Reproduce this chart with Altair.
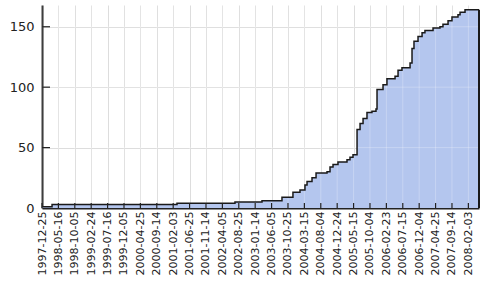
import altair as alt
import pandas as pd

dates = ["1997-12-25", "1998-03-22", "2001-03-08", "2002-07-23", "2003-03-14",
         "2003-09-03", "2003-12-07", "2004-02-06", "2004-03-20", "2004-04-07",
         "2004-05-20", "2004-06-24", "2004-09-27", "2004-10-23", "2004-11-18",
         "2004-12-31", "2005-03-19", "2005-04-14", "2005-05-10", "2005-06-14",
         "2005-07-10", "2005-08-05", "2005-09-08", "2005-10-21", "2005-11-25",
         "2005-12-04", "2006-01-25", "2006-02-28", "2006-05-09", "2006-06-04",
         "2006-07-08", "2006-09-16", "2006-10-03", "2006-10-20", "2006-11-24",
         "2006-12-29", "2007-01-23", "2007-04-03", "2007-06-02", "2007-06-28",
         "2007-08-11", "2007-09-14", "2007-11-05", "2007-11-23", "2008-01-05",
         "2008-05-05"]
values = [1, 3, 4, 5, 6,
          9, 13, 15, 19, 22,
          25, 29, 30, 34, 36,
          38, 40, 42, 44, 65,
          70, 74, 79, 80, 82,
          98, 102, 107, 109, 114,
          116, 120, 132, 138, 142,
          145, 147, 149, 150, 152,
          155, 158, 160, 162, 164,
          164]

tick_labels = ["1997-12-25", "1998-05-16", "1998-10-05", "1999-02-24", "1999-07-16",
               "1999-12-05", "2000-04-25", "2000-09-14", "2001-02-03", "2001-06-25",
               "2001-11-14", "2002-04-05", "2002-08-25", "2003-01-14", "2003-06-05",
               "2003-10-25", "2004-03-15", "2004-08-04", "2004-12-24", "2005-05-15",
               "2005-10-04", "2006-02-23", "2006-07-15", "2006-12-04", "2007-04-25",
               "2007-09-14", "2008-02-03"]
y_ticks = [0, 50, 100, 150]

x_start = "1997-12-25"
x_end = "2008-05-05"
y_max = 168

W, H = 437, 203

df = pd.DataFrame({"date": dates, "value": values})
tick_ms = [int(pd.Timestamp(t, tz="UTC").timestamp() * 1000) for t in tick_labels]
ticks_df = pd.DataFrame({"date": tick_labels})
yt_df = pd.DataFrame({"v": y_ticks[1:]})
end_df = df.tail(1)

dom = [int(pd.Timestamp(x_start, tz="UTC").timestamp() * 1000),
       int(pd.Timestamp(x_end, tz="UTC").timestamp() * 1000)]

xscale = alt.Scale(type="utc", domain=dom, nice=False)
yscale = alt.Scale(domain=[0, y_max], nice=False)

x_axis = alt.Axis(
    values=tick_ms,
    tickCount=100,
    labelExpr="utcFormat(datum.value, '%Y-%m-%d')",
    labelAngle=270,
    labelFont="DejaVu Sans",
    labelFontSize=11,
    labelColor="#222222",
    labelPadding=3,
    ticks=False,
    grid=True,
    gridColor="#dddddd",
    gridWidth=1,
    domainColor="#222222",
    domainWidth=2,
    title=None,
    labelOverlap=False,
    labelFlush=False,
)
y_axis = alt.Axis(
    values=y_ticks,
    labelFont="DejaVu Sans",
    labelFontSize=13,
    labelColor="#222222",
    labelPadding=8,
    ticks=False,
    grid=True,
    gridColor="#dddddd",
    gridWidth=1,
    domainColor="#222222",
    domainWidth=2,
    title=None,
)

area = alt.Chart(df).mark_area(
    interpolate="step-after",
    color="#b4c6ee",
    opacity=1,
).encode(
    x=alt.X("date:T", scale=xscale, axis=x_axis),
    y=alt.Y("value:Q", scale=yscale, axis=y_axis),
)

# faint grid showing through the filled area
xgrid_over = alt.Chart(ticks_df).mark_rule(color="#ffffff", opacity=0.25, strokeWidth=1).encode(
    x=alt.X("date:T", scale=xscale),
    y=alt.value(0),
    y2=alt.value(H),
)
ygrid_over = alt.Chart(yt_df).mark_rule(color="#ffffff", opacity=0.25, strokeWidth=1).encode(
    y=alt.Y("v:Q", scale=yscale),
    x=alt.value(0),
    x2=alt.value(W),
)

line = alt.Chart(df).mark_line(
    interpolate="step-after", color="#1a1a1a", strokeWidth=1.5
).encode(
    x=alt.X("date:T", scale=xscale),
    y=alt.Y("value:Q", scale=yscale),
)

edge = alt.Chart(end_df).mark_rule(color="#1a1a1a", strokeWidth=2).encode(
    x=alt.X("date:T", scale=xscale),
    y=alt.Y("value:Q", scale=yscale),
    y2=alt.datum(0),
)

xticks = alt.Chart(ticks_df).mark_rule(color="#222222", strokeWidth=1.2).encode(
    x=alt.X("date:T", scale=xscale),
    y=alt.value(H),
    y2=alt.value(H - 5),
)

yticks = alt.Chart(yt_df).mark_rule(color="#222222", strokeWidth=1.2).encode(
    y=alt.Y("v:Q", scale=yscale),
    x=alt.value(0),
    x2=alt.value(8),
)

chart = alt.layer(area, xgrid_over, ygrid_over, line, edge, xticks, yticks).properties(
    width=W, height=H,
    autosize=alt.AutoSizeParams(type="none"),
    padding={"left": 42, "top": 5, "right": 7, "bottom": 73},
).configure_view(stroke=None)

chart.save("out.html", embed_options={"renderer": "svg", "actions": False})
